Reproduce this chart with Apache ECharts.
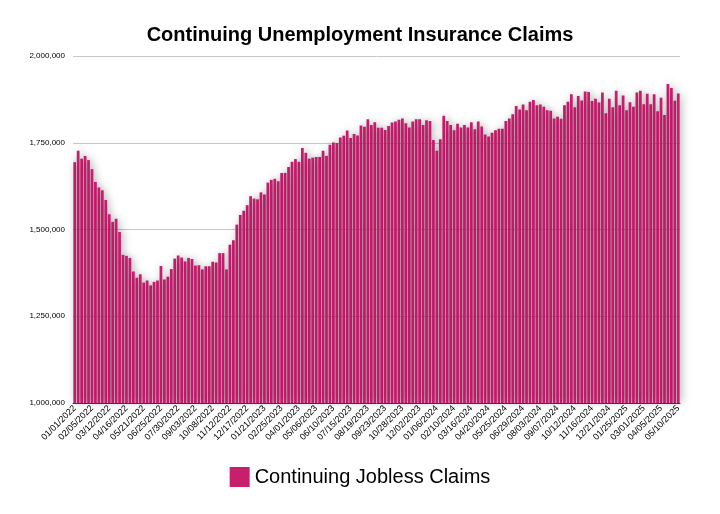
<!DOCTYPE html>
<html>
<head>
<meta charset="utf-8">
<script src="https://cdn.jsdelivr.net/npm/echarts@6/dist/echarts.min.js"></script>
<style>html,body{margin:0;padding:0;background:#fff}#chart{width:720px;height:514px}</style>
</head>
<body>
<div id="chart"></div>
<script>
// weekly continuing claims, first week ending 01/01/2022
var startDate = [2022, 0, 1];
var claims = [
    1694000, 1727000, 1704000, 1712000, 1700000, 1674000, 1637000, 1621000, 1613000, 1585000,
    1544000, 1522000, 1531000, 1493000, 1427000, 1424000, 1418000, 1379000, 1361000, 1371000,
    1347000, 1353000, 1339000, 1349000, 1353000, 1395000, 1356000, 1364000, 1386000, 1416000,
    1425000, 1419000, 1408000, 1418000, 1415000, 1396000, 1397000, 1385000, 1394000, 1394000,
    1407000, 1405000, 1432000, 1432000, 1385000, 1456000, 1469000, 1514000, 1542000, 1554000,
    1570000, 1596000, 1589000, 1587000, 1607000, 1601000, 1635000, 1643000, 1646000, 1639000,
    1663000, 1663000, 1680000, 1695000, 1703000, 1695000, 1735000, 1721000, 1704000, 1707000,
    1709000, 1709000, 1727000, 1712000, 1744000, 1751000, 1749000, 1765000, 1770000, 1785000,
    1764000, 1775000, 1771000, 1800000, 1796000, 1818000, 1801000, 1809000, 1793000, 1793000,
    1787000, 1798000, 1808000, 1811000, 1816000, 1820000, 1806000, 1794000, 1811000, 1818000,
    1818000, 1801000, 1815000, 1813000, 1758000, 1727000, 1760000, 1828000, 1813000, 1801000,
    1786000, 1805000, 1794000, 1801000, 1794000, 1809000, 1789000, 1811000, 1797000, 1774000,
    1768000, 1779000, 1786000, 1790000, 1790000, 1813000, 1820000, 1832000, 1856000, 1846000,
    1860000, 1844000, 1868000, 1873000, 1858000, 1860000, 1854000, 1844000, 1842000, 1820000,
    1825000, 1819000, 1858000, 1868000, 1890000, 1852000, 1885000, 1872000, 1898000, 1896000,
    1870000, 1877000, 1866000, 1895000, 1835000, 1877000, 1852000, 1900000, 1858000, 1886000,
    1844000, 1867000, 1854000, 1895000, 1900000, 1861000, 1891000, 1861000, 1890000, 1841000,
    1880000, 1830000, 1919000, 1908000, 1871000, 1892000
];
var yTicks = [1000000, 1250000, 1500000, 1750000, 2000000];

function pad(n){ return n < 10 ? '0' + n : '' + n; }
var weeks = [];
for (var i = 0; i < claims.length; i++) {
    var d = new Date(startDate[0], startDate[1], startDate[2] + 7 * i);
    weeks.push(pad(d.getMonth() + 1) + '/' + pad(d.getDate()) + '/' + d.getFullYear());
}

var chart = echarts.init(document.getElementById('chart'));
chart.setOption({
    animation: false,
    title: {
        text: 'Continuing Unemployment Insurance Claims',
        left: 'center',
        top: 20,
        textStyle: {fontFamily: 'Liberation Sans', fontSize: 20, fontWeight: 'bold', color: '#000'}
    },
    grid: {left: 73, right: 40, top: 56, bottom: 111},
    legend: {
        bottom: 22,
        left: 'center',
        icon: 'rect',
        itemWidth: 20,
        itemHeight: 20,
        textStyle: {fontFamily: 'Liberation Sans', fontSize: 20, color: '#000'},
        data: ['Continuing Jobless Claims']
    },
    xAxis: {
        type: 'category',
        data: weeks,
        axisTick: {show: false},
        axisLine: {lineStyle: {color: '#444'}},
        axisLabel: {
            interval: 4,
            rotate: 45,
            fontSize: 9,
            fontFamily: 'Liberation Sans',
            color: '#000',
            margin: 4
        }
    },
    yAxis: {
        type: 'value',
        min: yTicks[0],
        max: yTicks[yTicks.length - 1],
        interval: 250000,
        axisLabel: {
            fontSize: 8,
            fontFamily: 'Liberation Sans',
            color: '#000',
            formatter: function(v){ return v.toLocaleString('en-US'); }
        },
        splitLine: {lineStyle: {color: '#c8c8c8'}}
    },
    series: [{
        name: 'Continuing Jobless Claims',
        type: 'bar',
        barCategoryGap: '20%',
        itemStyle: {
            color: '#c81e6e',
            shadowColor: 'rgba(0,0,0,0.35)',
            shadowBlur: 8,
            shadowOffsetX: 2,
            shadowOffsetY: 0
        },
        data: claims
    }]
});
</script>
</body>
</html>
